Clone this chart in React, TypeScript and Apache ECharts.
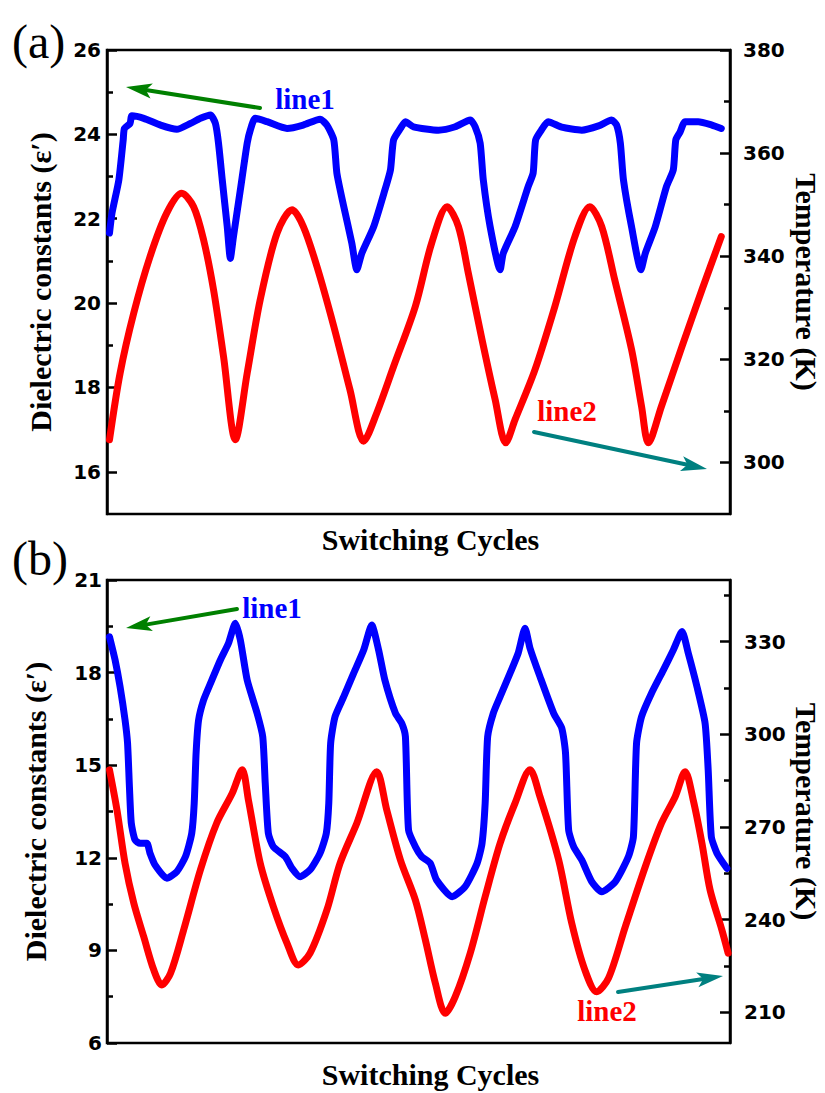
import React, { useEffect, useRef } from "react";
import * as echarts from "echarts";

// ---------- data: panel (a) ----------
// [switching-cycle position (a.u.), dielectric constant ε′]
const epsA: [number, number][] = [
  [0.4, 21.66], [0.8, 22.13], [1.9, 22.92], [2.6, 23.87], [2.8, 24.14], [3.7, 24.26], [4.0, 24.44],
  [5.9, 24.38], [8.6, 24.22], [11.2, 24.12], [13.4, 24.26], [15.0, 24.38], [16.6, 24.46], [17.4, 24.26],
  [17.9, 23.79], [18.5, 22.92], [19.3, 21.81], [19.8, 21.06], [20.3, 21.58], [21.4, 22.68], [22.5, 23.79],
  [23.0, 24.10], [23.8, 24.38], [25.7, 24.30], [28.9, 24.14], [31.5, 24.22], [34.2, 24.36], [35.3, 24.22],
  [36.4, 23.87], [36.9, 23.08], [38.0, 22.29], [39.3, 21.42], [40.1, 20.79], [40.9, 21.18], [42.8, 21.81],
  [44.6, 22.68], [45.5, 23.16], [46.0, 23.87], [47.1, 24.14], [47.9, 24.30], [49.2, 24.18], [53.2, 24.10],
  [55.9, 24.18], [58.3, 24.34], [59.1, 24.18], [59.9, 23.79], [60.4, 22.92], [61.5, 21.81], [63.1, 20.79],
  [63.6, 21.18], [65.5, 21.81], [67.6, 22.76], [68.4, 23.08], [68.8, 23.87], [69.8, 24.12], [70.8, 24.30],
  [73.0, 24.17], [76.2, 24.10], [78.9, 24.20], [81.0, 24.34], [81.8, 24.22], [82.4, 23.79], [82.9, 22.92],
  [84.2, 21.81], [85.7, 20.79], [86.4, 21.18], [88.0, 21.81], [89.8, 22.76], [90.9, 23.16], [91.3, 23.87],
  [92.0, 24.06], [92.8, 24.30], [94.9, 24.30], [97.1, 24.22], [98.6, 24.14],
];
// [switching-cycle position (a.u.), temperature K]
const tempA: [number, number][] = [
  [0.4, 304.4], [2.1, 317.3], [4.3, 329.0], [6.9, 339.9], [9.6, 348.4], [12.0, 352.2], [13.9, 349.6],
  [15.5, 343.2], [17.1, 333.5], [18.7, 320.6], [20.6, 304.4], [22.5, 317.3], [24.6, 331.6], [27.3, 344.5],
  [29.7, 349.0], [31.5, 345.8], [33.7, 338.0], [36.4, 326.4], [39.0, 314.1], [41.2, 304.1], [43.3, 309.6],
  [46.0, 318.6], [49.5, 330.3], [52.1, 342.5], [54.6, 349.6], [56.4, 345.8], [58.0, 336.7], [60.2, 323.8],
  [62.3, 312.2], [64.0, 303.8], [65.5, 308.3], [68.7, 318.0], [71.9, 330.3], [75.1, 343.8], [77.5, 349.6],
  [79.4, 345.8], [81.5, 335.4], [84.2, 321.9], [85.8, 310.9], [86.9, 303.8], [89.0, 310.9], [92.3, 322.5],
  [95.5, 333.5], [98.6, 343.8],
];

// ---------- data: panel (b) ----------
const epsB: [number, number][] = [
  [0.4, 19.16], [1.3, 18.41], [2.1, 17.54], [2.9, 16.46], [3.3, 15.71], [3.6, 14.30], [3.9, 13.12],
  [4.5, 12.58], [5.3, 12.47], [6.4, 12.47], [6.9, 12.15], [7.7, 11.77], [9.6, 11.34], [11.2, 11.55],
  [12.6, 12.04], [13.6, 12.79], [14.0, 13.77], [14.3, 15.39], [14.7, 16.46], [15.5, 17.11], [16.6, 17.65],
  [18.2, 18.41], [19.5, 18.95], [20.6, 19.60], [21.4, 19.06], [22.5, 17.76], [24.1, 16.68], [25.0, 15.92],
  [25.4, 14.41], [25.9, 12.79], [26.7, 12.36], [28.6, 12.04], [29.7, 11.66], [31.0, 11.39], [32.6, 11.61],
  [34.2, 12.15], [35.2, 12.79], [35.6, 13.77], [35.9, 15.71], [36.6, 16.57], [38.0, 17.22], [39.6, 17.98],
  [41.2, 18.73], [42.5, 19.54], [43.6, 18.73], [44.6, 17.76], [46.3, 16.68], [47.3, 16.36], [47.9, 15.92],
  [48.4, 12.90], [49.5, 12.36], [50.5, 12.04], [51.9, 11.82], [52.9, 11.28], [55.4, 10.74], [57.5, 11.07],
  [59.4, 11.82], [60.2, 12.47], [60.7, 13.77], [61.1, 15.92], [62.0, 16.68], [63.1, 17.22], [64.7, 17.98],
  [66.0, 18.63], [67.1, 19.44], [67.9, 18.79], [69.5, 17.87], [71.7, 16.68], [73.0, 16.20], [73.6, 15.39],
  [74.1, 12.90], [74.9, 12.36], [76.2, 11.93], [77.8, 11.23], [79.4, 10.90], [81.6, 11.23], [83.7, 12.04],
  [84.5, 12.69], [85.0, 15.71], [85.8, 16.57], [87.4, 17.33], [89.3, 18.08], [90.9, 18.73], [92.3, 19.33],
  [93.3, 18.63], [94.7, 17.54], [96.0, 16.36], [96.5, 14.84], [97.0, 12.69], [97.9, 12.15], [99.5, 11.66],
];
const tempB: [number, number][] = [
  [0.4, 288.5], [1.6, 275.5], [2.9, 258.2], [4.3, 245.3], [5.9, 234.4], [7.5, 223.7], [8.8, 218.8],
  [10.2, 222.6], [12.3, 236.6], [15.0, 256.1], [17.6, 271.2], [20.1, 280.9], [21.7, 288.5], [22.7, 278.7],
  [24.6, 258.2], [26.7, 244.2], [28.9, 232.3], [30.7, 225.3], [32.6, 229.1], [35.3, 243.1], [37.4, 258.2],
  [40.1, 271.2], [43.3, 287.9], [44.9, 275.5], [47.1, 259.3], [49.5, 246.3], [51.1, 233.4], [52.7, 219.4],
  [54.3, 209.6], [55.9, 215.0], [58.3, 229.1], [60.7, 247.4], [63.1, 264.7], [65.5, 277.7], [67.9, 288.5],
  [69.5, 279.8], [72.5, 259.3], [74.6, 238.8], [76.7, 223.7], [78.6, 216.6], [80.5, 221.0], [83.2, 237.7],
  [86.4, 257.1], [89.0, 271.2], [91.2, 279.8], [92.8, 287.9], [94.1, 278.7], [95.5, 264.7], [96.8, 249.6],
  [98.7, 236.6], [99.7, 229.1],
];

// ---------- axis ticks ----------
const epsTicksA = [16, 18, 20, 22, 24, 26];
const epsMinorA = [17, 19, 21, 23, 25];
const tempTicksA = [300, 320, 340, 360, 380];
const tempMinorA = [310, 330, 350, 370];
const epsTicksB = [6, 9, 12, 15, 18, 21];
const epsMinorB = [7.5, 10.5, 13.5, 16.5, 19.5];
const tempTicksB = [210, 240, 270, 300, 330];
const tempMinorB = [225, 255, 285, 315, 345];

const BLACK = "#000";
const SERIF = "Liberation Serif";

type Pt = [number, number];

function arrow(tail: Pt, tip: Pt, color: string) {
  const headLen = 26;
  const half = 7.5;
  const dx = tip[0] - tail[0];
  const dy = tip[1] - tail[1];
  const L = Math.hypot(dx, dy);
  const ux = dx / L;
  const uy = dy / L;
  const nx = -uy;
  const ny = ux;
  const bx = tip[0] - ux * headLen;
  const by = tip[1] - uy * headLen;
  return [
    {
      type: "line",
      silent: true,
      shape: { x1: tail[0], y1: tail[1], x2: bx + ux * 6, y2: by + uy * 6 },
      style: { stroke: color, lineWidth: 4, lineCap: "round" },
    },
    {
      type: "polygon",
      silent: true,
      shape: {
        points: [
          tip,
          [bx + nx * half, by + ny * half],
          [bx + ux * 6, by + uy * 6],
          [bx - nx * half, by - ny * half],
        ],
      },
      style: { fill: color },
    },
  ];
}

function label(text: string, x: number, y: number, color: string, size: number, bold: boolean, align = "center") {
  return {
    type: "text",
    silent: true,
    x,
    y,
    style: {
      text,
      fill: color,
      font: `${bold ? "bold " : ""}${size}px "${SERIF}"`,
      align,
      verticalAlign: "middle",
      textAlign: align,
      textVerticalAlign: "middle",
    },
  };
}

function valueAxis(opts: {
  grid: number;
  side: "left" | "right";
  min: number;
  max: number;
  ticks: number[];
  minor?: boolean;
  name?: string;
  nameGap?: number;
  labelMargin?: number;
}) {
  const { grid, side, min, max, ticks, minor, name, nameGap, labelMargin } = opts;
  return {
    type: "value",
    gridIndex: grid,
    position: side,
    min,
    max,
    splitLine: { show: false },
    axisLine: { show: !minor, lineStyle: { color: BLACK, width: 2.5 } },
    axisTick: {
      show: true,
      inside: true,
      length: minor ? 6 : 10,
      customValues: ticks,
      lineStyle: { color: BLACK, width: 2.5 },
    },
    axisLabel: minor
      ? { show: false }
      : {
          show: true,
          customValues: ticks,
          color: BLACK,
          fontFamily: "DejaVu Sans",
          fontWeight: "bold",
          fontSize: 20,
          margin: labelMargin,
        },
    name: minor ? undefined : name,
    nameLocation: "middle",
    nameGap,
    nameMoveOverlap: false,
    nameRotate: side === "left" ? 90 : -90,
    nameTextStyle: { color: BLACK, fontFamily: SERIF, fontWeight: "bold", fontSize: 30 },
  };
}

function xAxis(grid: number, gap: number) {
  return {
    type: "value",
    gridIndex: grid,
    min: 0,
    max: 100,
    axisLine: { show: false },
    axisTick: { show: false },
    axisLabel: { show: false },
    splitLine: { show: false },
    name: "Switching Cycles",
    nameLocation: "middle",
    nameGap: gap,
    nameTextStyle: {
      color: BLACK,
      fontFamily: SERIF,
      fontWeight: "bold",
      fontSize: 30,
      padding: [0, 0, 0, 24],
    },
  };
}

function lineSeries(data: Pt[], color: string, xi: number, yi: number, smooth: number) {
  return {
    type: "line",
    data,
    xAxisIndex: xi,
    yAxisIndex: yi,
    showSymbol: false,
    symbol: "none",
    smooth,
    lineStyle: { color, width: 7, cap: "round", join: "round" },
    z: 3,
  };
}

export default function App() {
  const ref = useRef<HTMLDivElement>(null);

  useEffect(() => {
    if (!ref.current) return;
    const chart = echarts.init(ref.current, undefined, { renderer: "svg" });

    const gridStyle = {
      show: true,
      borderColor: BLACK,
      borderWidth: 2.5,
      backgroundColor: "transparent",
      containLabel: false,
      outerBoundsMode: "none",
    };

    chart.setOption({
      animation: false,
      backgroundColor: "#fff",
      grid: [
        { ...gridStyle, left: 107, top: 50, width: 623, height: 464 },
        { ...gridStyle, left: 107, top: 580, width: 623, height: 463 },
      ],
      xAxis: [xAxis(0, 10), xAxis(1, 16)],
      yAxis: [
        // panel (a)
        valueAxis({ grid: 0, side: "left", min: 15, max: 26, ticks: epsTicksA, name: "Dielectric constants (ε′)", nameGap: 52, labelMargin: 6 }),
        valueAxis({ grid: 0, side: "right", min: 290, max: 380, ticks: tempTicksA, name: "Temperature (K)", nameGap: 61, labelMargin: 13 }),
        valueAxis({ grid: 0, side: "left", min: 15, max: 26, ticks: epsMinorA, minor: true }),
        valueAxis({ grid: 0, side: "right", min: 290, max: 380, ticks: tempMinorA, minor: true }),
        // panel (b)
        valueAxis({ grid: 1, side: "left", min: 6, max: 21, ticks: epsTicksB, name: "Dielectric constants (ε′)", nameGap: 57, labelMargin: 5 }),
        valueAxis({ grid: 1, side: "right", min: 200, max: 350, ticks: tempTicksB, name: "Temperature (K)", nameGap: 61, labelMargin: 14 }),
        valueAxis({ grid: 1, side: "left", min: 6, max: 21, ticks: epsMinorB, minor: true }),
        valueAxis({ grid: 1, side: "right", min: 200, max: 350, ticks: tempMinorB, minor: true }),
      ],
      series: [
        lineSeries(epsA, "#0000ff", 0, 0, 0.2),
        lineSeries(tempA, "#ff0000", 0, 1, 0.3),
        lineSeries(epsB, "#0000ff", 1, 4, 0.2),
        lineSeries(tempB, "#ff0000", 1, 5, 0.3),
      ],
      graphic: [
        label("(a)", 12, 41, BLACK, 48, false, "left"),
        label("(b)", 12, 558, BLACK, 48, false, "left"),
        label("line1", 305, 99, "#0000ff", 29, true),
        label("line2", 567, 411, "#ff0000", 29, true),
        label("line1", 272, 608, "#0000ff", 29, true),
        label("line2", 607, 1011, "#ff0000", 29, true),
        ...arrow([260, 108], [126, 87], "#008000"),
        ...arrow([534, 432], [707, 469], "#008080"),
        ...arrow([237, 609], [126, 628], "#008000"),
        ...arrow([618, 992], [723, 976], "#008080"),
      ],
    });

    return () => chart.dispose();
  }, []);

  return (
    <div
      ref={ref}
      style={{ position: "absolute", left: 0, top: 0, width: 825, height: 1093, background: "#fff" }}
    />
  );
}
